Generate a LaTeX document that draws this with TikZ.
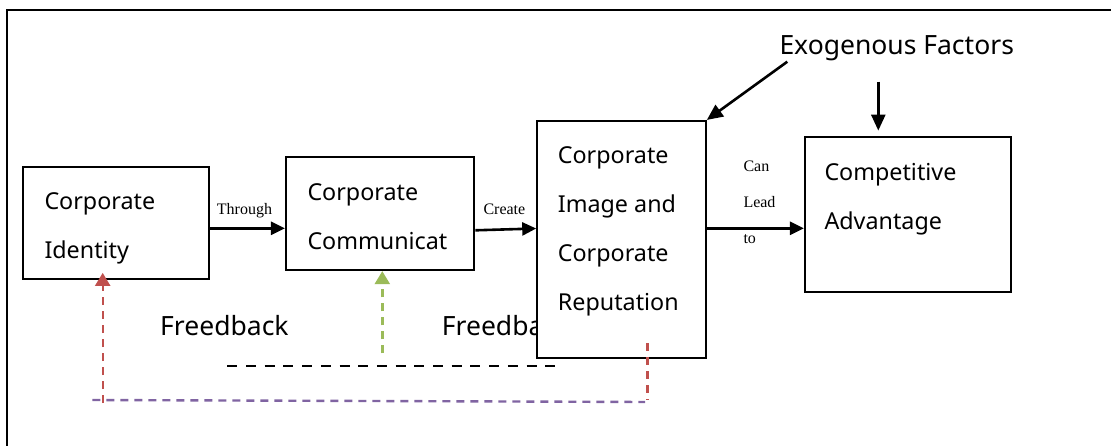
\documentclass[tikz,border=0pt]{standalone}
\usepackage{fontspec}
\setmainfont{Noto Sans}
\newfontfamily\labelfont{Liberation Serif}
\usetikzlibrary{arrows.meta}

\definecolor{fbred}{HTML}{C0504D}
\definecolor{fbgreen}{HTML}{9BBB59}
\definecolor{fbpurple}{HTML}{8064A2}

\tikzset{
  box/.style={draw, line width=2.2pt, fill=white, inner sep=0pt},
  boxtext/.style={font=\fontsize{23.3}{49}\selectfont, align=left, inner sep=0pt, anchor=base west},
  bigtext/.style={font=\fontsize{26.5}{30}\selectfont, inner sep=0pt, anchor=base west},
  linklabel/.style={font=\labelfont\fontsize{16}{19}\selectfont, inner sep=0pt, anchor=base west},
  flow/.style={line width=2.6pt, -{Triangle[length=14pt,width=13pt]}},
  fbline/.style={line width=2.4pt, dash pattern=on 8pt off 6pt},
  fbarrow/.style={fbline, -{Triangle[length=13pt,width=15pt]}}
}

\begin{document}
\begin{tikzpicture}[x=1pt, y=-1pt]
\useasboundingbox (0,0) rectangle (1111,446);

% frame
\draw[line width=2pt] (6.7,446) -- (6.7,10.3) -- (1111,10.3);

% feedback labels (the second one runs behind the image/reputation box)
\node[bigtext] (fb2) at (441.7,335.7) {Freedback};
\node[bigtext] (fb1) at (160,335.7) {Freedback};

% boxes
\node[box, minimum width=185.7pt, minimum height=112.6pt] (b1) at (116.2,223) {};
\node[box, minimum width=188.3pt, minimum height=112.7pt] (b2) at (380.2,213.7) {};
\node[box, minimum width=168.4pt, minimum height=237.3pt] (b3) at (621.5,239.7) {};
\node[box, minimum width=206pt, minimum height=155pt] (b4) at (908,214.2) {};

% box texts (placed by the baseline of their last line)
\node[boxtext] (t1) at (44.3,258.3) {Corporate\\Identity};
\node[boxtext] (t2) at (307.3,249.3) {Corporate\\Communicat};
\node[boxtext] (t3) at (557.7,310.3) {Corporate\\Image and\\Corporate\\Reputation};
\node[boxtext] (t4) at (824.3,229.3) {Competitive\\Advantage};

% exogenous factors
\node[bigtext] (ex) at (779.3,55) {Exogenous Factors};
\coordinate (exa) at (787.3,61.7);
\coordinate (exb) at (878.3,81.7);
\draw[line width=2.6pt, -{Triangle[length=16pt,width=14pt]}] (exa) -- (b3.north east);
\draw[line width=2.6pt, -{Triangle[length=16pt,width=14pt]}, shorten >=5pt] (exb) -- (exb |- b4.north);

% main flow
\coordinate (y1) at (0,228.3);
\coordinate (y2a) at (0,230.3);
\coordinate (y2b) at (0,228.5);
\draw[flow] (b1.east |- y1) -- (b2.west |- y1);
\draw[flow] (b2.east |- y2a) -- (b3.west |- y2b);
\draw[flow] (b3.east |- y1) -- (b4.west |- y1);

% flow labels
\node[linklabel] (l1) at (216.7,215) {Through};
\node[linklabel] (l2) at (483.3,215) {Create};
\node[linklabel] (l3) at (743.3,171.7) {Can};
\node[linklabel] (l4) at (743.3,207.7) {Lead};
\node[linklabel] (l5) at (743.3,243.3) {to};

% feedback loops
\coordinate (kl) at (227.3,366);
\coordinate (kr) at (555,366);
\draw[fbline, dash pattern=on 10pt off 8.7pt, line width=2.6pt] (kl) -- (kr);

\coordinate (gb) at (382.3,353.3);
\draw[fbarrow, fbgreen] (gb) -- (gb |- b2.south);

\coordinate (pl) at (92.3,400);
\coordinate (pr) at (645,402);
\draw[fbline, fbpurple] (pl) -- (pr);

\coordinate (rt) at (647.5,343);
\coordinate (rb) at (647.5,400);
\draw[fbline, fbred] (rt) -- (rb);

\coordinate (lb) at (102.7,403);
\draw[fbarrow, fbred, shorten >=-7.5pt] (lb) -- (lb |- b1.south);
\end{tikzpicture}
\end{document}
